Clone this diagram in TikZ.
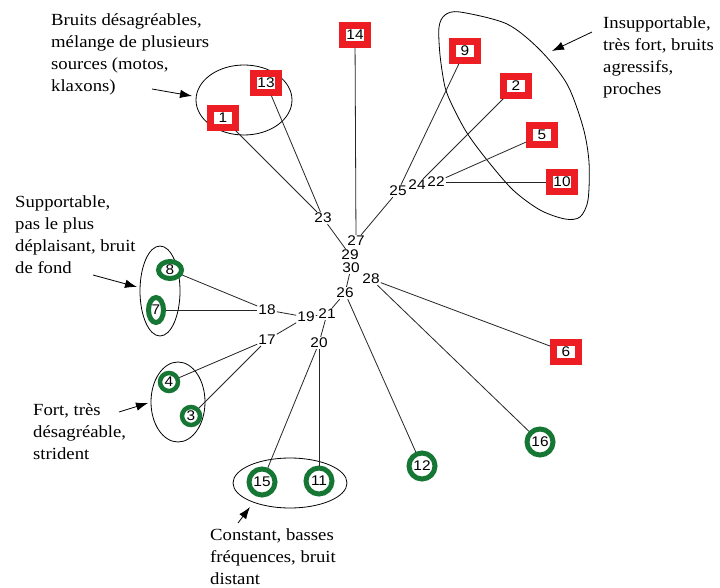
\documentclass[tikz,border=0pt]{standalone}
\usepackage{fontspec}
\setmainfont{Liberation Serif}[FakeStretch=1.1]
\newfontfamily\numfont{Liberation Sans}[FakeStretch=1.1]
\usetikzlibrary{shapes.geometric,arrows.meta}
\definecolor{boxred}{RGB}{236,30,36}
\definecolor{leafgreen}{RGB}{22,118,52}
\begin{document}
\begin{tikzpicture}[x=1pt,y=-1pt,
  num/.style={font=\numfont\fontsize{14}{14}\selectfont, inner sep=1pt},
  redbox/.style={num, draw=boxred, fill=white, line width=6.5pt, minimum width=25pt, minimum height=19pt, inner sep=0pt},
  greenring/.style={num, circle, draw=leafgreen, fill=white, line width=5pt, minimum size=26pt, inner sep=0pt},
  smallring/.style={greenring, line width=4.5pt, minimum size=18pt},
  ovalring/.style={num, ellipse, draw=leafgreen, fill=white, line width=5pt, inner sep=0pt},
  branch/.style={draw=black!85, line width=0.8pt},
  group/.style={draw=black, line width=0.8pt},
  note/.style={font=\fontsize{17}{22}\selectfont, align=left, anchor=north west, inner sep=0pt},
  pointer/.style={draw=black, line width=0.8pt, -{Latex[length=12pt,width=8.5pt]}},
]
\useasboundingbox[fill=white] (0,0) rectangle (720,588);

% group outlines
\draw[group] (244,100) ellipse [x radius=48pt, y radius=35pt];
\draw[group] (160,291) ellipse [x radius=20pt, y radius=45pt];
\draw[group] (178,402) ellipse [x radius=27pt, y radius=40pt];
\draw[group] (290,483) ellipse [x radius=57pt, y radius=25pt];
\draw[group] plot[smooth cycle, tension=0.5] coordinates {(439,27) (445,15) (460,12) (507,24) (540,50) (567,84) (583,127) (589,162) (588,200) (580,217) (565,219) (540,210) (513,190) (487,160) (467,133) (453,107) (445,87) (440,55)};

% leaves: red boxes
\node[redbox] (n14) at (355,35) {14};
\node[redbox] (n13) at (266,83) {13};
\node[redbox] (n1) at (223,118) {1};
\node[redbox] (n9) at (465,51) {9};
\node[redbox] (n2) at (516,86) {2};
\node[redbox] (n5) at (542,135) {5};
\node[redbox] (n10) at (562,182) {10};
\node[redbox] (n6) at (566,352) {6};

% leaves: green rings
\node[greenring] (g16) at (540,442) {16};
\node[greenring] (g12) at (422,466) {12};
\node[greenring] (g15) at (262,482) {15};
\node[greenring] (g11) at (319,481) {11};
\node[smallring] (g4) at (169,382) {4};
\node[smallring] (g3) at (191,416) {3};
\node[ovalring, minimum width=23pt, minimum height=17pt] (g8) at (170,270) {8};
\node[ovalring, minimum width=15pt, minimum height=25pt] (g7) at (156,310) {7};

% internal nodes
\node[num] (i23) at (323,218) {23};
\node[num] (i27) at (356,241) {27};
\node[num] (i29) at (350,255) {29};
\node[num] (i30) at (351,268) {30};
\node[num] (i28) at (371,279) {28};
\node[num] (i26) at (345,293) {26};
\node[num] (i25) at (398,191) {25};
\node[num] (i24) at (417,185) {24};
\node[num] (i22) at (436,182) {22};
\node[num] (i19) at (306,317) {19};
\node[num] (i21) at (327,314) {21};
\node[num] (i18) at (267,310) {18};
\node[num] (i17) at (267,340) {17};
\node[num] (i20) at (319,343) {20};

% branches
\draw[branch] (n1) -- (i23);
\draw[branch] (n13) -- (i23);
\draw[branch] (i23) -- (i29);
\draw[branch] (n14) -- (i27);
\draw[branch] (n9) -- (i25);
\draw[branch] (n2) -- (i24);
\draw[branch] (n5) -- (i22);
\draw[branch] (n10) -- (i22);
\draw[branch] (i25) -- (i27);
\draw[branch] (i30) -- (i26);
\draw[branch] (i28) -- (n6);
\draw[branch] (i28) -- (g16);
\draw[branch] (i26) -- (i21);
\draw[branch] (i26) -- (g12);
\draw[branch] (g8) -- (i18);
\draw[branch] (g7) -- (i18);
\draw[branch] (i18) -- (i19);
\draw[branch] (i17) -- (i19);
\draw[branch] (i17) -- (g4);
\draw[branch] (i17) -- (g3);
\draw[branch] (i19) -- (i21);
\draw[branch] (i21) -- (i20);
\draw[branch] (i20) -- (g15);
\draw[branch] (i20) -- (g11);

% annotations
\node[note] (t1) at (51,13) {Bruits désagréables,\\mélange de plusieurs\\sources (motos,\\klaxons)};
\node[note] (t2) at (603,17) {Insupportable,\\très fort, bruits\\agressifs,\\proches};
\node[note] (t3) at (15,196) {Supportable,\\pas le plus\\déplaisant, bruit\\de fond};
\node[note] (t4) at (33,403) {Fort, très\\désagréable,\\strident};
\node[note] (t5) at (210,529) {Constant, basses\\fréquences, bruit\\distant};

\coordinate (p1s) at (152,89);  \coordinate (p1e) at (192,96);
\coordinate (p2s) at (592,32);  \coordinate (p2e) at (552,51);
\coordinate (p3s) at (93,275);  \coordinate (p3e) at (137,287);
\coordinate (p4s) at (119,412); \coordinate (p4e) at (148,403);
\coordinate (p5s) at (238,523); \coordinate (p5e) at (250,507);
\draw[pointer] (p1s) -- (p1e);
\draw[pointer] (p2s) -- (p2e);
\draw[pointer] (p3s) -- (p3e);
\draw[pointer] (p4s) -- (p4e);
\draw[pointer] (p5s) -- (p5e);
\end{tikzpicture}
\end{document}
